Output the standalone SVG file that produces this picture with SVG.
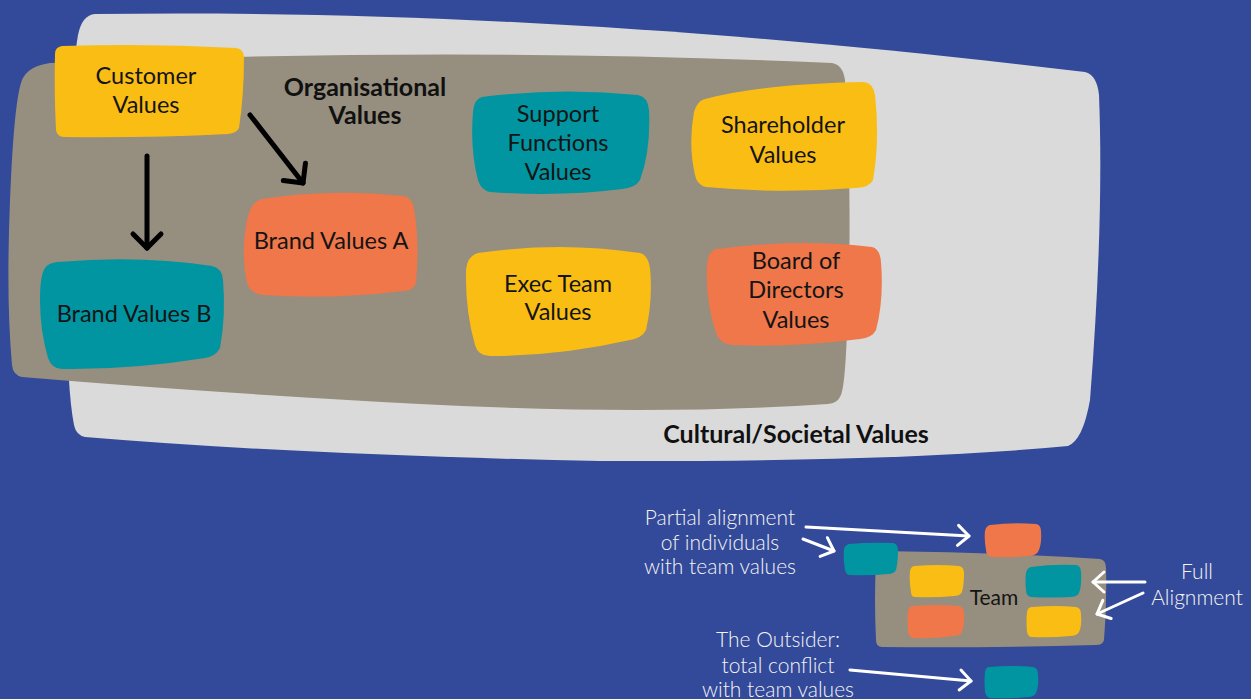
<svg xmlns="http://www.w3.org/2000/svg" width="1251" height="699" viewBox="0 0 1251 699">
  <style>
    .node-text { font-family: Lato, "Open Sans", "Liberation Sans", sans-serif; font-size: 23.5px; fill: #141414; text-anchor: middle; }
    .bold-label { font-family: Lato, "Open Sans", "Liberation Sans", sans-serif; font-size: 25px; font-weight: 700; fill: #111; text-anchor: middle; }
    .note { font-family: Lato, "Open Sans", "Liberation Sans", sans-serif; font-size: 21px; font-weight: 300; fill: #f4f4f4; text-anchor: middle; }
    .yellow { fill: #f9bd14; }
    .teal { fill: #0095a1; }
    .orange { fill: #ef774a; }
    .taupe { fill: #968e7e; }
    .black-arrow { stroke: #000; stroke-width: 5; fill: none; stroke-linecap: round; stroke-linejoin: round; }
    .white-arrow { stroke: #fff; stroke-width: 3; fill: none; stroke-linecap: round; stroke-linejoin: round; }
  </style>
  <defs>
    <marker id="chevron-black" markerUnits="userSpaceOnUse" markerWidth="40" markerHeight="40" viewBox="-20 -20 40 40" refX="0" refY="0" orient="auto">
      <path d="M -14,-14 L 0,0 L -14,14" fill="none" stroke="#000" stroke-width="5" stroke-linecap="round" stroke-linejoin="round"/>
    </marker>
    <marker id="chevron-white" markerUnits="userSpaceOnUse" markerWidth="30" markerHeight="30" viewBox="-15 -15 30 30" refX="0" refY="0" orient="auto">
      <path d="M -11,-10 L 0,0 L -11,10" fill="none" stroke="#fff" stroke-width="3" stroke-linecap="round" stroke-linejoin="round"/>
    </marker>
  </defs>

  <rect width="1251" height="699" fill="#334999"/>

  <!-- outer context: cultural / societal -->
  <g id="cultural-values">
    <path d="M 95,14 C 400,10 720,28 1085,72 Q 1097,75 1099,95 Q 1104,220 1090,400 Q 1083,440 1068,446 Q 900,462 600,461 Q 300,455 85,437 Q 76,435 74,425 Q 67,390 67,300 Q 67,100 78,35 Q 82,15 95,14 Z" fill="#dadada"/>
    <text class="bold-label" x="796" y="443">Cultural/Societal Values</text>
  </g>

  <!-- organisation layer -->
  <g id="organisational-values">
    <path d="M 50,63 Q 450,46 832,63 Q 843,65 845,80 Q 853,200 847,330 Q 845,390 840,397 Q 837,403 828,404 Q 650,416 420,404 Q 200,392 22,377 Q 13,375 12,365 Q 6,300 10,200 Q 14,100 22,80 Q 28,66 50,63 Z" class="taupe"/>
    <text class="bold-label" x="365" y="96">Organisational</text>
    <text class="bold-label" x="365" y="124">Values</text>
  </g>

  <g id="customer-values">
    <path class="yellow" d="M 62,46 Q 150,43 236,48 Q 244,49 244,58 Q 244,95 239,128 Q 237,133 228,134 Q 150,138 64,137 Q 57,137 56,130 Q 54,90 55,54 Q 55,47 62,46 Z"/>
    <text class="node-text" x="146" y="84">Customer</text>
    <text class="node-text" x="146" y="113">Values</text>
  </g>

  <g id="brand-values-b">
    <path class="teal" d="M 58,262 Q 140,255 212,266 Q 222,268 223,280 Q 226,315 220,348 Q 216,356 205,358 Q 130,370 62,369 Q 52,369 48,358 Q 40,330 40,300 Q 40,275 45,268 Q 48,263 58,262 Z"/>
    <text class="node-text" x="134" y="322">Brand Values B</text>
  </g>

  <g id="brand-values-a">
    <path class="orange" d="M 262,199 Q 330,188 404,196 Q 412,198 414,208 Q 420,245 416,283 Q 414,290 404,291 Q 330,300 262,295 Q 250,293 247,283 Q 240,250 248,216 Q 252,201 262,199 Z"/>
    <text class="node-text" x="331" y="249">Brand Values A</text>
  </g>

  <g id="support-functions-values">
    <path class="teal" d="M 482,97 Q 560,87 638,95 Q 648,97 649,110 Q 651,150 640,180 Q 635,188 622,189 Q 560,197 490,192 Q 481,190 478,180 Q 470,150 473,112 Q 474,99 482,97 Z"/>
    <text class="node-text" x="558" y="122">Support</text>
    <text class="node-text" x="558" y="151">Functions</text>
    <text class="node-text" x="558" y="180">Values</text>
  </g>

  <g id="shareholder-values">
    <path class="yellow" d="M 705,99 Q 760,84 864,82 Q 873,83 875,95 Q 880,140 873,180 Q 870,187 856,188 Q 780,194 706,187 Q 697,185 695,175 Q 688,145 694,112 Q 697,101 705,99 Z"/>
    <text class="node-text" x="783" y="133">Shareholder</text>
    <text class="node-text" x="783" y="163">Values</text>
  </g>

  <g id="exec-team-values">
    <path class="yellow" d="M 478,253 Q 560,241 640,253 Q 648,255 650,268 Q 653,300 646,330 Q 642,338 630,340 Q 560,356 490,356 Q 478,356 475,345 Q 465,310 466,270 Q 467,256 478,253 Z"/>
    <text class="node-text" x="558" y="292">Exec Team</text>
    <text class="node-text" x="558" y="320">Values</text>
  </g>

  <g id="board-of-directors-values">
    <path class="orange" d="M 716,249 Q 800,238 872,247 Q 880,249 881,262 Q 884,300 876,330 Q 872,338 860,339 Q 790,348 732,345 Q 720,344 716,333 Q 705,300 707,265 Q 708,251 716,249 Z"/>
    <text class="node-text" x="796" y="269">Board of</text>
    <text class="node-text" x="796" y="298">Directors</text>
    <text class="node-text" x="796" y="328">Values</text>
  </g>

  <!-- team example -->
  <g id="team">
    <path class="taupe" d="M 880,551 Q 990,552 1100,559 Q 1106,560 1106,568 Q 1107,605 1104,640 Q 1103,645 1096,645 Q 990,648 882,647 Q 876,647 876,640 Q 874,600 876,560 Q 876,552 880,551 Z"/>
    <text class="node-text" x="994" y="605" style="font-size:21px">Team</text>
  </g>
  <g id="member-partial-top">
    <path class="orange" d="M 990,525 Q 1012,522 1036,524 Q 1041,525 1041,531 Q 1042,545 1038,552 Q 1035,556 1028,556 Q 1010,558 992,557 Q 986,556 986,550 Q 984,538 985,531 Q 986,526 990,525 Z"/>
  </g>
  <g id="member-partial-left">
    <path class="teal" d="M 849,544 Q 870,542 893,543 Q 898,544 898,550 Q 898,562 896,570 Q 894,574 888,574 Q 868,576 850,575 Q 846,575 845,570 Q 843,558 844,549 Q 845,545 849,544 Z"/>
  </g>
  <g id="member-yellow-1">
    <path class="yellow" d="M 915,566 Q 938,564 959,566 Q 964,567 964,573 Q 964,585 962,592 Q 960,596 954,596 Q 935,598 915,597 Q 911,597 911,592 Q 909,580 910,571 Q 911,566 915,566 Z"/>
  </g>
  <g id="member-orange-1">
    <path class="orange" d="M 913,606 Q 936,604 959,606 Q 964,607 964,613 Q 965,625 962,632 Q 960,636 954,636 Q 933,639 913,638 Q 909,637 908,632 Q 907,620 908,611 Q 909,606 913,606 Z"/>
  </g>
  <g id="member-teal-1">
    <path class="teal" d="M 1031,567 Q 1052,564 1076,565 Q 1081,566 1081,572 Q 1082,585 1079,593 Q 1077,597 1070,597 Q 1050,598 1031,597 Q 1026,596 1026,590 Q 1025,580 1026,573 Q 1027,568 1031,567 Z"/>
  </g>
  <g id="member-yellow-2">
    <path class="yellow" d="M 1032,607 Q 1055,605 1076,607 Q 1081,608 1081,614 Q 1082,626 1079,632 Q 1077,636 1070,636 Q 1050,638 1032,637 Q 1028,637 1027,632 Q 1026,620 1027,612 Q 1028,607 1032,607 Z"/>
  </g>
  <g id="member-outsider">
    <path class="teal" d="M 989,667 Q 1012,665 1033,667 Q 1038,668 1038,674 Q 1039,686 1036,693 Q 1034,697 1028,697 Q 1008,699 990,698 Q 986,697 985,692 Q 984,680 985,672 Q 986,667 989,667 Z"/>
  </g>

  <g id="annotations">
    <text class="note" x="720" y="525">Partial alignment</text>
    <text class="note" x="720" y="550">of individuals</text>
    <text class="note" x="720" y="574">with team values</text>
    <text class="note" x="1197" y="579">Full</text>
    <text class="note" x="1197" y="605">Alignment</text>
    <text class="note" x="778" y="647">The Outsider:</text>
    <text class="note" x="778" y="673">total conflict</text>
    <text class="note" x="778" y="697">with team values</text>
  </g>

  <!-- connectors -->
  <g id="connectors">
    <line class="black-arrow" x1="147" y1="156" x2="147" y2="248" marker-end="url(#chevron-black)"/>
    <line class="black-arrow" x1="250" y1="115" x2="303" y2="183" marker-end="url(#chevron-black)"/>
    <line class="white-arrow" x1="806" y1="527" x2="969" y2="536" marker-end="url(#chevron-white)"/>
    <line class="white-arrow" x1="803" y1="539" x2="834" y2="551" marker-end="url(#chevron-white)"/>
    <line class="white-arrow" x1="1145" y1="582" x2="1093" y2="582" marker-end="url(#chevron-white)"/>
    <line class="white-arrow" x1="1143" y1="593" x2="1097" y2="614" marker-end="url(#chevron-white)"/>
    <line class="white-arrow" x1="850" y1="670" x2="971" y2="681" marker-end="url(#chevron-white)"/>
  </g>
</svg>
